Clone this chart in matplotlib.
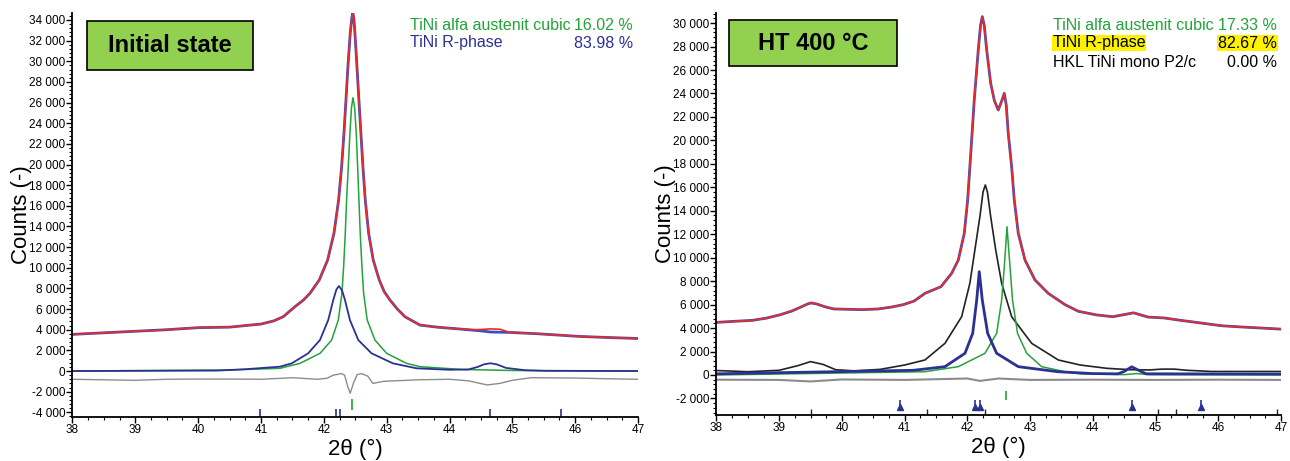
import matplotlib
matplotlib.use("Agg")
import matplotlib.pyplot as plt
from matplotlib.patches import Rectangle
from matplotlib.ticker import FuncFormatter, MultipleLocator, AutoMinorLocator

plt.rcParams['font.family'] = ['Liberation Sans', 'DejaVu Sans']

# ---------------- left panel: initial state ----------------
l_obs_x = [38.0, 38.5, 39.0, 39.5, 40.0, 40.5, 41.0, 41.2, 41.354, 41.54, 41.68, 41.779, 41.927,
           42.06, 42.161, 42.235, 42.283, 42.32, 42.352, 42.383, 42.42, 42.445, 42.461, 42.477,
           42.495, 42.527, 42.558, 42.59, 42.622, 42.659, 42.713, 42.786, 42.882, 42.96, 43.052,
           43.17, 43.29, 43.53, 43.8, 44.1, 44.48, 44.65, 44.8, 44.95, 45.4, 46.07, 46.5, 47.0]
l_obs_y = [3550, 3700, 3850, 4000, 4200, 4250, 4550, 4850, 5260, 6230, 6900, 7525, 8815,
           10750, 13340, 16565, 19790, 23025, 26250, 29475, 32710, 34200, 34706, 34200,
           32710, 29475, 26250, 23025, 19790, 16565, 13340, 10750, 8815, 7700, 6880,
           6000, 5260, 4450, 4250, 4100, 3900, 3780, 3760, 3740, 3610, 3350, 3250, 3150]
l_calc_x = l_obs_x[:40] + [44.35, 44.5, 44.65, 44.8, 44.95, 45.4, 46.07, 46.5, 47.0]
l_calc_y = l_obs_y[:40] + [4000, 4020, 4080, 4050, 3760, 3610, 3350, 3250, 3150]

l_rph_x = [38.0, 40.3, 40.77, 41.3, 41.488, 41.75, 41.938, 42.07, 42.15, 42.20, 42.24, 42.29,
           42.336, 42.415, 42.548, 42.76, 43.10, 43.477, 44.0, 44.3, 44.45, 44.55, 44.65,
           44.75, 44.9, 45.2, 45.5, 47.0]
l_rph_y = [0, 40, 180, 420, 740, 1710, 3000, 4940, 6880, 7900, 8233, 7800,
           6880, 4940, 3000, 1710, 740, 260, 120, 150, 400, 650, 750,
           650, 300, 80, 20, 0]

l_aus_x = [38.0, 40.5, 41.30, 41.62, 41.938, 42.124, 42.23, 42.288, 42.315, 42.341, 42.362,
           42.389, 42.415, 42.44, 42.463, 42.49, 42.516, 42.538, 42.558, 42.579, 42.606, 42.633,
           42.69, 42.813, 43.0, 43.317, 43.53, 44.2, 45.0, 47.0]
l_aus_y = [0, 100, 260, 740, 1710, 3000, 4940, 7525, 10110, 13340, 16565,
           19790, 23025, 25500, 26470, 25500, 23025, 19790, 16565, 13340, 10110, 7525,
           4940, 3000, 1710, 740, 420, 150, 50, 0]

l_diff_x = [38.0, 38.5, 39.0, 39.5, 40.0, 40.5, 41.0, 41.5, 41.9, 42.05, 42.15, 42.28, 42.33,
            42.38, 42.42, 42.47, 42.53, 42.6, 42.7, 42.78, 42.95, 43.5, 44.0, 44.3, 44.6,
            44.8, 45.0, 45.3, 46.0, 46.5, 47.0]
l_diff_y = [-800, -850, -900, -800, -780, -780, -800, -650, -800, -700, -400, -250, -400,
            -1500, -2150, -1200, -350, -250, -500, -1200, -1000, -850, -800, -950, -1350,
            -1200, -900, -650, -680, -750, -800]

l_aus_ticks = [42.45]
l_rph_ticks = [40.98, 42.2, 42.25, 44.65, 45.78]

# ---------------- right panel: HT 400 C ----------------
r_obs_x = [38.0, 38.3, 38.57, 38.8, 39.02, 39.2, 39.35, 39.45, 39.51, 39.6, 39.74, 39.87, 40.1,
           40.32, 40.58, 40.8, 40.98, 41.15, 41.324, 41.58, 41.75, 41.856, 41.951, 42.005,
           42.058, 42.11, 42.174, 42.21, 42.238, 42.27, 42.308, 42.372, 42.43, 42.493, 42.55,
           42.589, 42.62, 42.652, 42.706, 42.748, 42.812, 42.919, 43.078, 43.29, 43.556,
           43.77, 44.06, 44.32, 44.5, 44.65, 44.88, 45.14, 45.4, 45.7, 46.05, 46.38, 46.7, 47.0]
r_obs_y = [4486, 4580, 4657, 4850, 5143, 5450, 5800, 6050, 6143, 6050, 5800, 5630, 5600,
           5570, 5630, 5800, 6000, 6300, 6960, 7530, 8670, 9800, 12080, 14920,
           19180, 23440, 27710, 29800, 30550, 29800, 27710, 24870, 23400, 22590, 23400,
           24010, 23000, 20600, 17760, 14920, 12080, 9800, 8100, 6960, 6000,
           5430, 5120, 4970, 5150, 5300, 4940, 4860, 4660, 4450, 4200, 4090, 4000, 3910]

r_mono_x = [38.0, 38.5, 39.0, 39.3, 39.5, 39.7, 39.9, 40.2, 40.61, 41.0, 41.324, 41.643, 41.909,
            42.04, 42.12, 42.20, 42.25, 42.286, 42.32, 42.372, 42.452, 42.547, 42.706, 43.025,
            43.45, 43.8, 44.22, 44.6, 44.9, 45.1, 45.3, 45.5, 45.9, 47.0]
r_mono_y = [380, 280, 400, 800, 1140, 900, 450, 350, 480, 850, 1280, 2700, 4970,
            7815, 10660, 13500, 15600, 16200, 15600, 13500, 10660, 7815, 4970, 2700,
            1280, 850, 570, 450, 430, 500, 500, 400, 300, 300]

r_rph_x = [38.0, 41.14, 41.643, 41.962, 42.085, 42.149, 42.19, 42.238, 42.324, 42.467, 42.812,
           43.44, 44.0, 44.4, 44.5, 44.62, 44.75, 44.85, 47.0]
r_rph_y = [100, 400, 710, 1850, 3550, 6390, 8810, 6390, 3550, 1850, 710,
           280, 120, 100, 300, 700, 350, 100, 80]

r_aus_x = [38.0, 41.324, 41.856, 42.28, 42.467, 42.547, 42.589, 42.632, 42.68, 42.72, 42.80,
           42.946, 43.185, 43.556, 43.8, 44.5, 44.7, 44.9, 47.0]
r_aus_y = [0, 280, 710, 1850, 3550, 6390, 9230, 12640, 9230, 6390, 3550,
           1850, 710, 280, 100, 30, 120, 30, 0]

r_diff_x = [38.0, 39.0, 39.5, 40.0, 41.0, 42.0, 42.2, 42.5, 43.0, 44.0, 45.0, 46.0, 47.0]
r_diff_y = [-400, -420, -550, -380, -420, -300, -500, -300, -420, -400, -420, -400, -420]

r_aus_ticks = [42.62]
r_rph_ticks = [40.92, 42.12, 42.20, 44.62, 45.72]
r_mono_ticks = [39.5, 41.36, 42.28, 45.04, 45.32, 46.93]

RED = '#ee2a24'
OBS = '#3a4fc0'
NAVY = '#2b3192'
GREEN = '#23a33a'
GRAY = '#8c8c8c'


def fmt(v, pos):
    return f"{int(round(v)):,}".replace(",", " ")


def style_axis(ax, xlim, ylim):
    ax.set_xlim(*xlim)
    ax.set_ylim(*ylim)
    ax.spines['top'].set_visible(False)
    ax.spines['right'].set_visible(False)
    ax.spines['left'].set_linewidth(1.3)
    ax.spines['bottom'].set_linewidth(1.3)
    ax.xaxis.set_major_locator(MultipleLocator(1))
    ax.xaxis.set_minor_locator(AutoMinorLocator(4))
    ax.yaxis.set_major_locator(MultipleLocator(2000))
    ax.yaxis.set_minor_locator(AutoMinorLocator(5))
    ax.yaxis.set_major_formatter(FuncFormatter(fmt))
    ax.tick_params(which='major', direction='out', length=4, width=1, pad=1, labelsize=8.5)
    ax.tick_params(which='minor', direction='out', length=2, width=0.8)
    ax.set_xlabel('2θ (°)', fontsize=16, labelpad=2)
    ax.set_ylabel('Counts (-)', fontsize=16, labelpad=-2)


fig = plt.figure(figsize=(12.9, 4.61), dpi=100)

# left
ax1 = fig.add_axes([0.0562, 0.0954, 0.4384, 0.8764])
ax1.plot(l_diff_x, l_diff_y, color=GRAY, lw=1.0)
ax1.plot(l_aus_x, l_aus_y, color=GREEN, lw=1.1)
ax1.plot(l_rph_x, l_rph_y, color=NAVY, lw=1.3)
ax1.plot(l_obs_x, l_obs_y, color=OBS, lw=2.0)
ax1.plot(l_calc_x, l_calc_y, color=RED, lw=1.2)
ax1.vlines(l_aus_ticks, -3750, -2750, color=GREEN, lw=1.2)
ax1.vlines(l_rph_ticks, -4456, -3650, color=NAVY, lw=1.2)
style_axis(ax1, (38, 47), (-4456, 34676))

# right
ax2 = fig.add_axes([0.5554, 0.0998, 0.4376, 0.8720])
ax2.plot(r_diff_x, r_diff_y, color=GRAY, lw=1.5)
ax2.plot(r_mono_x, r_mono_y, color='#222222', lw=1.2)
ax2.plot(r_aus_x, r_aus_y, color=GREEN, lw=1.1)
ax2.plot(r_rph_x, r_rph_y, color=NAVY, lw=2.0)
ax2.plot(r_obs_x, r_obs_y, color=OBS, lw=2.0)
ax2.plot(r_obs_x, r_obs_y, color=RED, lw=1.2)
ax2.vlines(r_aus_ticks, -2140, -1340, color=GREEN, lw=1.2)
ax2.vlines(r_rph_ticks, -2800, -2090, color=NAVY, lw=1.2)
ax2.plot(r_rph_ticks, [-2750] * len(r_rph_ticks), ls='none', marker='^', ms=5, color=NAVY)
ax2.vlines(r_mono_ticks, -3410, -2880, color='#222222', lw=1.0)
style_axis(ax2, (38, 47), (-3410, 30860))

W, H = 1290, 461


def px(x, y):
    return x / W, 1 - y / H


# title boxes
for (x0, y0, x1, y1, label) in [(87, 21, 253, 70, 'Initial state'), (729, 20, 897, 66, 'HT 400 °C')]:
    fig.add_artist(Rectangle(px(x0, y1), (x1 - x0) / W, (y1 - y0) / H, transform=fig.transFigure,
                             facecolor='#92d050', edgecolor='black', lw=1.2))
    fig.text(*px((x0 + x1) / 2, (y0 + y1) / 2), label, fontsize=17, fontweight='bold',
             ha='center', va='center')

# phase legends
fs = 11.5
fig.text(*px(410, 25), 'TiNi alfa austenit cubic', color=GREEN, fontsize=fs, va='center')
fig.text(*px(633, 25), '16.02 %', color=GREEN, fontsize=fs, va='center', ha='right')
fig.text(*px(410, 43), 'TiNi R-phase', color=NAVY, fontsize=fs, va='center')
fig.text(*px(633, 43), '83.98 %', color=NAVY, fontsize=fs, va='center', ha='right')

hl = dict(facecolor='#fff200', edgecolor='none', pad=0.5)
fig.text(*px(1053, 25), 'TiNi alfa austenit cubic', color=GREEN, fontsize=fs, va='center')
fig.text(*px(1277, 25), '17.33 %', color=GREEN, fontsize=fs, va='center', ha='right')
fig.text(*px(1053, 43), 'TiNi R-phase', color='black', fontsize=fs, va='center', bbox=hl)
fig.text(*px(1277, 43), '82.67 %', color='black', fontsize=fs, va='center', ha='right', bbox=hl)
fig.text(*px(1053, 62), 'HKL TiNi mono P2/c', color='black', fontsize=fs, va='center')
fig.text(*px(1277, 62), '0.00 %', color='black', fontsize=fs, va='center', ha='right')

fig.savefig('out.png', dpi=100)
